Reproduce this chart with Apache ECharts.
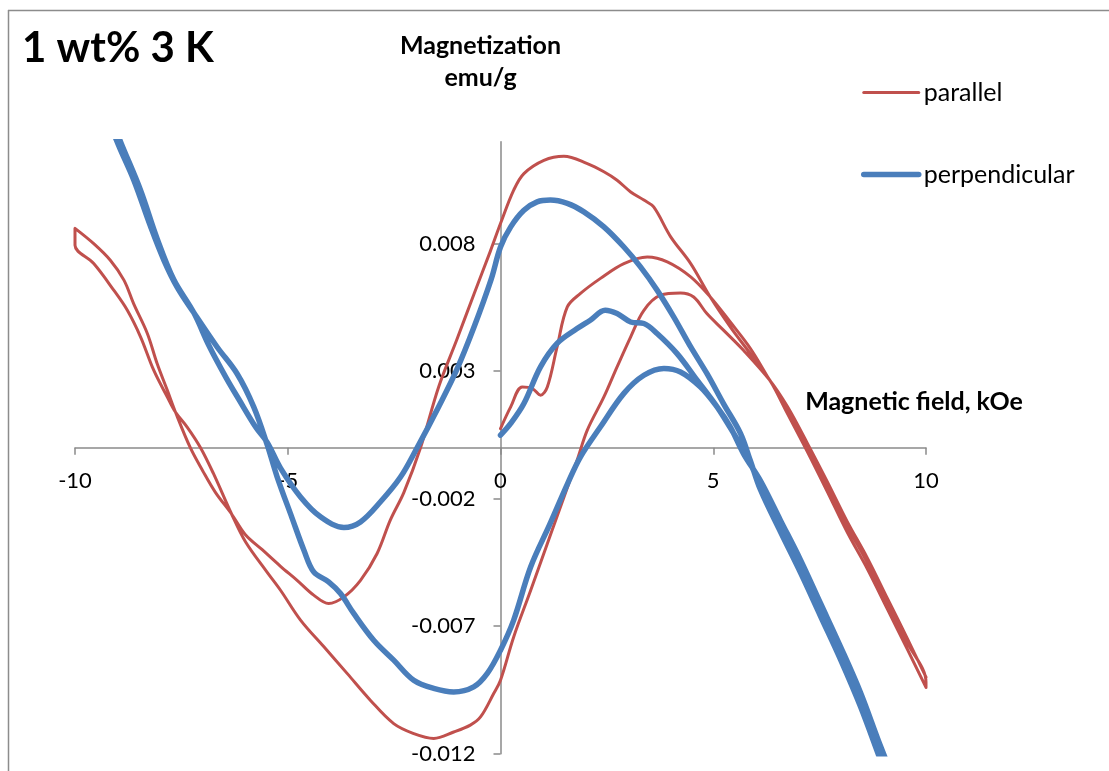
<!DOCTYPE html>
<html>
<head>
<meta charset="utf-8">
<script src="https://cdn.jsdelivr.net/npm/echarts@6/dist/echarts.min.js"></script>
<style>
  html, body { margin: 0; padding: 0; background: #ffffff; }
  #chart { width: 1109px; height: 771px; }
</style>
</head>
<body>
<div id="chart"></div>
<script>
// ---------- DATA (field in kOe, magnetization in emu/g) ----------
const xTicks = [-10, -5, 0, 5, 10];
const yTicks = [-0.012, -0.007, -0.002, 0.003, 0.008];

// parallel: virgin sweep 0 -> +10
const parallelVirgin = [
  [0,0.00075],[0.24,0.0016],[0.51,0.00238],[0.75,0.00232],[0.94,0.00206],[1.10,0.00238],
  [1.33,0.00395],[1.57,0.00552],[1.88,0.00605],[2.35,0.00664],[2.90,0.00722],[3.45,0.00748],
  [3.92,0.00729],[4.47,0.0067],[4.93,0.00591],[5.40,0.00493],[5.87,0.0039],[6.30,0.00272],
  [6.74,0.0015],[7.21,0.00003],[7.68,-0.0015],[8.15,-0.00308],[8.62,-0.0045],[9.09,-0.00607],
  [9.56,-0.00764],[10,-0.0092]
];
// parallel: sweep +10 -> -10
const parallelDown = [
  [10,-0.0094],[9.56,-0.0079],[9.09,-0.00632],[8.62,-0.00475],[8.15,-0.00332],[7.68,-0.00172],
  [7.21,-0.00015],[6.74,0.00135],[6.34,0.00262],[5.87,0.00369],[5.40,0.00474],[4.93,0.00591],
  [4.47,0.00722],[4.00,0.00827],[3.60,0.00944],[3.37,0.00971],[3.06,0.01003],[2.74,0.01049],
  [2.43,0.01082],[2.04,0.01114],[1.49,0.01143],[1.02,0.01127],[0.55,0.01075],[0.31,0.0101],
  [0,0.00879],[-0.24,0.0077],[-0.62,0.00604],[-1.03,0.00422],[-1.45,0.0024],[-1.88,0.0],
  [-2.27,-0.00175],[-2.59,-0.00284],[-2.90,-0.00415],[-3.29,-0.0052],[-3.68,-0.00585],
  [-4.04,-0.00611],[-4.39,-0.00578],[-4.78,-0.0052],[-5.17,-0.00465],[-5.60,-0.004],
  [-6.00,-0.0034],[-6.32,-0.0026],[-6.70,-0.00175],[-7.00,-0.0009],[-7.29,0.0],[-7.64,0.0014],
  [-7.83,0.00225],[-8.07,0.0033],[-8.30,0.00448],[-8.62,0.00564],[-8.85,0.00657],[-9.17,0.00735],
  [-9.56,0.008],[-10,0.0086]
];
// parallel: sweep -10 -> +10
const parallelUp = [
  [-10,0.00794],[-9.56,0.00722],[-9.09,0.00618],[-8.77,0.00539],[-8.46,0.00435],[-8.15,0.00304],
  [-7.83,0.00199],[-7.64,0.0014],[-7.36,0.0008],[-7.05,0.0],[-6.75,-0.001],[-6.32,-0.0026],
  [-5.99,-0.0037],[-5.50,-0.00485],[-5.17,-0.00559],[-4.70,-0.00676],[-4.15,-0.00781],
  [-3.60,-0.00886],[-3.06,-0.0099],[-2.51,-0.01082],[-2.04,-0.01121],[-1.57,-0.0114],
  [-1.10,-0.01115],[-0.71,-0.01088],[-0.47,-0.01056],[-0.16,-0.00964],[0,-0.00912],
  [0.31,-0.00742],[0.71,-0.00559],[1.20,-0.0033],[1.80,-0.00049],[2.04,0.00069],[2.43,0.00199],
  [2.74,0.00317],[3.06,0.00435],[3.37,0.00539],[3.76,0.00598],[4.23,0.00607],[4.54,0.00591],
  [4.85,0.00526],[5.24,0.00461],[5.71,0.00382],[6.34,0.00262],[6.74,0.00162],[7.21,0.00018],
  [7.68,-0.00133],[8.15,-0.0029],[8.62,-0.00432],[9.09,-0.0059],[9.56,-0.00748],[10,-0.009]
];

// perpendicular: virgin sweep 0 -> +10
const perpVirgin = [
  [0,0.00049],[0.24,0.00095],[0.55,0.00173],[0.94,0.00317],[1.33,0.00409],[1.80,0.00467],
  [2.11,0.005],[2.46,0.00539],[2.74,0.00526],[3.06,0.00493],[3.37,0.00487],[3.68,0.00448],
  [4.15,0.00369],[4.62,0.00265],[5.09,0.0016],[5.48,0.00056],[5.80,-0.00036],[6.11,-0.0015],
  [6.58,-0.00308],[7.05,-0.00464],[7.52,-0.00634],[7.99,-0.00804],[8.46,-0.00987],
  [8.93,-0.01196],[10,-0.0166]
];
// perpendicular: sweep +10 -> -10
const perpDown = [
  [10,-0.017],[8.93,-0.01225],[8.46,-0.01015],[7.99,-0.0083],[7.52,-0.0066],[7.05,-0.0049],
  [6.58,-0.0033],[6.11,-0.00165],[5.87,-0.0005],[5.64,0.00056],[5.24,0.00173],[4.85,0.00291],
  [4.47,0.00395],[4.07,0.00513],[3.68,0.00618],[3.29,0.00709],[2.90,0.00787],[2.43,0.00866],
  [1.96,0.00925],[1.57,0.00958],[1.17,0.00971],[0.86,0.00964],[0.55,0.00931],[0.24,0.00866],
  [0,0.00787],[-0.22,0.0066],[-0.62,0.00474],[-1.03,0.00305],[-1.45,0.00162],[-1.96,0.0],
  [-2.35,-0.00115],[-2.82,-0.00212],[-3.29,-0.00291],[-3.68,-0.00313],[-4.23,-0.00271],
  [-4.70,-0.00193],[-5.17,-0.0008],[-5.48,0.0002],[-5.75,0.0008],[-6.15,0.0019],[-6.45,0.00275],
  [-6.85,0.004],[-7.21,0.0053],[-7.68,0.0066],[-8.07,0.0082],[-8.46,0.0101],[-8.93,0.012],
  [-10,0.0165]
];
// perpendicular: sweep -10 -> +10
const perpUp = [
  [-10,0.0163],[-9.01,0.012],[-8.62,0.0105],[-8.23,0.0087],[-7.91,0.00735],[-7.60,0.0063],
  [-7.21,0.0053],[-6.66,0.00395],[-6.19,0.0029],[-5.80,0.0016],[-5.48,0.0001],[-5.25,-0.00114],
  [-4.90,-0.00275],[-4.62,-0.00402],[-4.39,-0.00487],[-4.04,-0.00526],[-3.76,-0.00572],
  [-3.45,-0.0065],[-2.98,-0.00755],[-2.51,-0.00833],[-2.04,-0.00912],[-1.57,-0.00944],
  [-1.10,-0.00958],[-0.63,-0.00938],[-0.31,-0.00885],[0,-0.00794],[0.31,-0.00676],[0.71,-0.00467],
  [1.16,-0.003],[1.58,-0.0014],[1.88,-0.00036],[2.35,0.00082],[2.90,0.00213],[3.37,0.00284],
  [3.84,0.00311],[4.23,0.00297],[4.70,0.00238],[5.09,0.0016],[5.40,0.00082],[5.71,-0.00023],
  [6.11,-0.0013],[6.58,-0.00285],[7.05,-0.0044],[7.52,-0.0061],[7.99,-0.0078],[8.46,-0.0096],
  [8.93,-0.0117],[10,-0.0162]
];

const seriesNames = ['parallel', 'perpendicular'];
const RED = '#C0504D';
const BLUE = '#4A7EBB';
const FONT = 'Lato, "Noto Sans", sans-serif';

// plot rectangle (pixels): x from -10..10, y from -0.012..0.012
const GRID = { left: 75, right: 183, top: 141.7, bottom: 17.3 };
const PLOT_W = 1109 - GRID.left - GRID.right;      // 851
const PLOT_H = 771 - GRID.top - GRID.bottom;       // 612
// axes cross at x = 0 and y = 0 (middle of each range)
const Y_AXIS_SHIFT = -PLOT_W / 2;
const X_AXIS_SHIFT = -PLOT_H / 2;

const chart = echarts.init(document.getElementById('chart'), null, { renderer: 'canvas' });

const option = {
  backgroundColor: '#ffffff',
  animation: false,
  grid: { left: GRID.left, right: GRID.right, top: GRID.top, bottom: GRID.bottom,
          containLabel: false, outerBoundsMode: 'none' },
  xAxis: {
    type: 'value', min: -10, max: 10, position: 'bottom', offset: X_AXIS_SHIFT,
    axisLine: { onZero: false, lineStyle: { color: '#8a8a8a', width: 1.5 } },
    axisTick: { show: true, length: 7, lineStyle: { color: '#8a8a8a', width: 1.5 }, customValues: xTicks },
    axisLabel: { customValues: xTicks, margin: 22, color: '#000', fontSize: 22, fontFamily: FONT,
                 formatter: v => String(v) },
    splitLine: { show: false }
  },
  yAxis: {
    type: 'value', min: -0.012, max: 0.012, position: 'left', offset: Y_AXIS_SHIFT,
    axisLine: { onZero: false, lineStyle: { color: '#8a8a8a', width: 1.5 } },
    axisTick: { show: true, length: 7, lineStyle: { color: '#8a8a8a', width: 1.5 }, customValues: yTicks },
    axisLabel: { customValues: yTicks, margin: 25, color: '#000', fontSize: 22, fontFamily: FONT,
                 formatter: v => v.toFixed(3) },
    splitLine: { show: false }
  },
  legend: {
    orient: 'vertical', left: 861, top: 80, padding: 0,
    itemWidth: 55, itemHeight: 4, itemGap: 57,
    itemStyle: { opacity: 0 },
    textStyle: { fontSize: 25, fontFamily: FONT, color: '#000' },
    data: [
      { name: seriesNames[0], lineStyle: { width: 3, color: RED, cap: 'round' } },
      { name: seriesNames[1], lineStyle: { width: 5.5, color: BLUE, cap: 'round' } }
    ]
  },
  graphic: [
    { type: 'line', shape: { x1: 8, y1: 10.5, x2: 1109, y2: 10.5 }, style: { stroke: '#8c8c8c', lineWidth: 1.5 }, silent: true },
    { type: 'line', shape: { x1: 8.5, y1: 10, x2: 8.5, y2: 771 }, style: { stroke: '#8c8c8c', lineWidth: 1.5 }, silent: true },
    { type: 'text', left: 22, top: 27, style: { text: '1 wt% 3 K', font: 'bold 42px ' + FONT, fill: '#000' } },
    { type: 'text', style: { text: 'Magnetization', x: 480.5, y: 46, align: 'center', verticalAlign: 'middle', font: 'bold 25px ' + FONT, fill: '#000' } },
    { type: 'text', style: { text: 'emu/g', x: 480.5, y: 78, align: 'center', verticalAlign: 'middle', font: 'bold 25px ' + FONT, fill: '#000' } },
    { type: 'text', style: { text: 'Magnetic field, kOe', x: 914, y: 402, align: 'center', verticalAlign: 'middle', font: 'bold 25px ' + FONT, fill: '#000' } }
  ],
  series: [
    {
      name: seriesNames[0], type: 'line', symbol: 'none', smooth: 0.35, clip: true,
      lineStyle: { color: RED, width: 3, join: 'round', cap: 'round' },
      itemStyle: { color: RED },
      data: parallelVirgin.concat(parallelDown, parallelUp)
    },
    {
      name: seriesNames[1], type: 'line', symbol: 'none', smooth: 0.35, clip: true,
      lineStyle: { color: BLUE, width: 5.5, join: 'round', cap: 'round' },
      itemStyle: { color: BLUE },
      data: perpVirgin.concat(perpDown, perpUp)
    }
  ]
};
chart.setOption(option);
</script>
</body>
</html>
